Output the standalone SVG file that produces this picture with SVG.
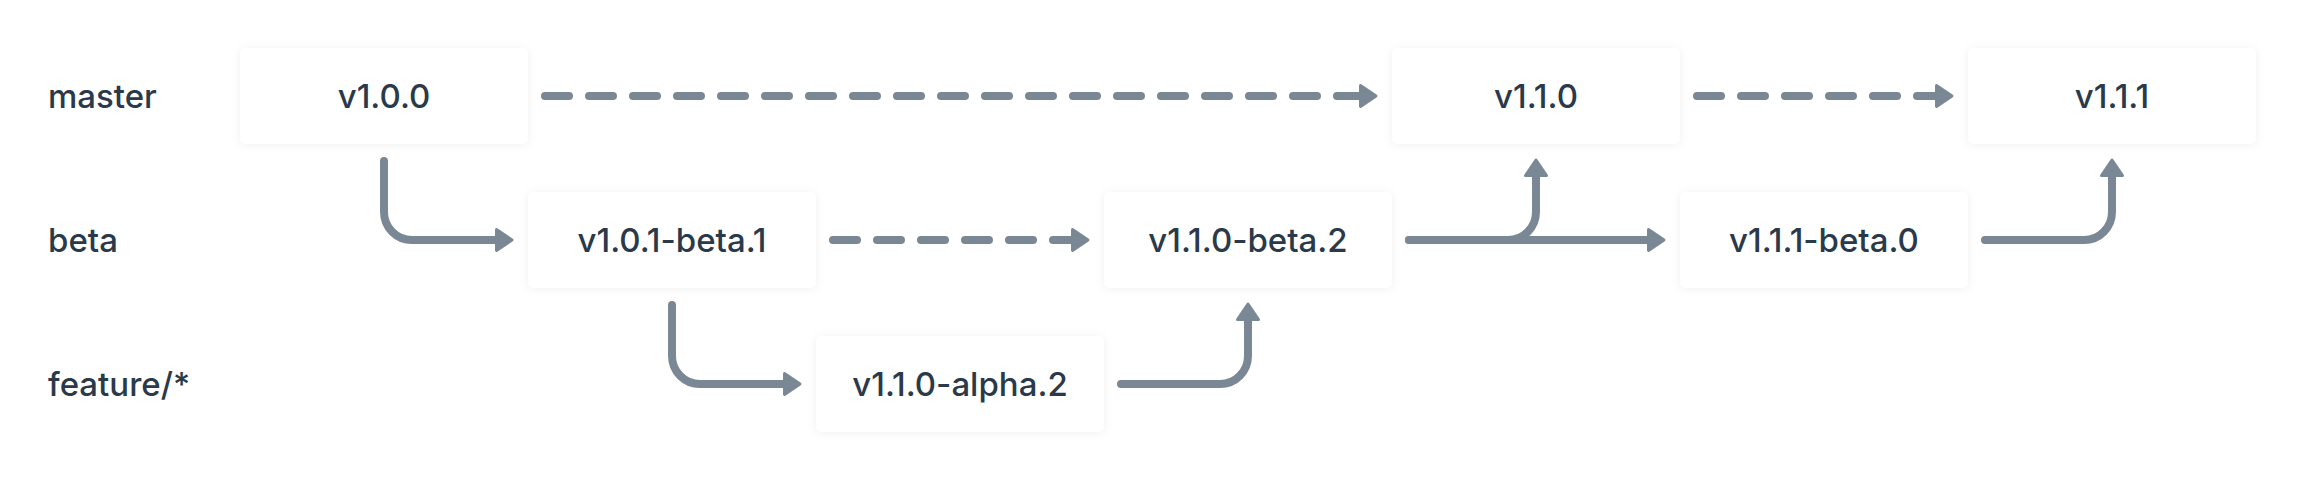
<svg xmlns="http://www.w3.org/2000/svg" width="2304" height="480" viewBox="0 0 2304 480">
  <style>
    .bg { fill: #ffffff; }
    .box { fill: #ffffff; filter: url(#shadow); }
    .t { font-family: Inter, "Liberation Sans", sans-serif; font-size: 33px; font-weight: 500; fill: #2a3a4a; }
    .node .t { text-anchor: middle; }
    .edge { fill: none; stroke: #7a8896; stroke-width: 8; stroke-linecap: round; stroke-linejoin: round; marker-end: url(#arrow); }
    .dash { stroke-dasharray: 24 20; }
  </style>
  <defs>
    <filter id="shadow" x="-10%" y="-20%" width="120%" height="140%">
      <feDropShadow dx="0" dy="1" stdDeviation="5" flood-color="#000000" flood-opacity="0.06"/>
    </filter>
    <marker id="arrow" markerUnits="userSpaceOnUse" viewBox="-3 -14 24 28" markerWidth="24" markerHeight="28" refX="0" refY="0" orient="auto">
      <path d="M0 -10.5 L15.5 0 L0 10.5 Z" fill="#7a8896" stroke="#7a8896" stroke-width="3" stroke-linejoin="round"/>
    </marker>
  </defs>
  <rect class="bg" x="0" y="0" width="2304" height="480"/>

  <g id="lanes">
    <text class="t" x="48" y="108">master</text>
    <text class="t" x="48" y="252">beta</text>
    <text class="t" x="48" y="396">feature/*</text>
  </g>

  <g id="n-v100" class="node">
    <rect class="box" x="240" y="48" width="288" height="96" rx="6"/>
    <text class="t" x="384" y="108">v1.0.0</text>
  </g>
  <g id="n-v101-beta1" class="node">
    <rect class="box" x="528" y="192" width="288" height="96" rx="6"/>
    <text class="t" x="672" y="252">v1.0.1-beta.1</text>
  </g>
  <g id="n-v110-alpha2" class="node">
    <rect class="box" x="816" y="336" width="288" height="96" rx="6"/>
    <text class="t" x="960" y="396">v1.1.0-alpha.2</text>
  </g>
  <g id="n-v110-beta2" class="node">
    <rect class="box" x="1104" y="192" width="288" height="96" rx="6"/>
    <text class="t" x="1248" y="252">v1.1.0-beta.2</text>
  </g>
  <g id="n-v110" class="node">
    <rect class="box" x="1392" y="48" width="288" height="96" rx="6"/>
    <text class="t" x="1536" y="108">v1.1.0</text>
  </g>
  <g id="n-v111-beta0" class="node">
    <rect class="box" x="1680" y="192" width="288" height="96" rx="6"/>
    <text class="t" x="1824" y="252">v1.1.1-beta.0</text>
  </g>
  <g id="n-v111" class="node">
    <rect class="box" x="1968" y="48" width="288" height="96" rx="6"/>
    <text class="t" x="2112" y="108">v1.1.1</text>
  </g>

  <g id="connectors">
    <path class="edge dash" d="M545 96 H1360.5"/>
    <path class="edge dash" d="M1697 96 H1936.5"/>
    <path class="edge dash" d="M833 240 H1072.5"/>
    <path class="edge" d="M384 161 V212 A28 28 0 0 0 412 240 H496.5"/>
    <path class="edge" d="M672 305 V356 A28 28 0 0 0 700 384 H784.5"/>
    <path class="edge" d="M1121 384 H1220 A28 28 0 0 0 1248 356 V319.5"/>
    <path class="edge" d="M1409 240 H1508 A28 28 0 0 0 1536 212 V175.5"/>
    <path class="edge" d="M1409 240 H1648.5"/>
    <path class="edge" d="M1985 240 H2084 A28 28 0 0 0 2112 212 V175.5"/>
  </g>
</svg>
